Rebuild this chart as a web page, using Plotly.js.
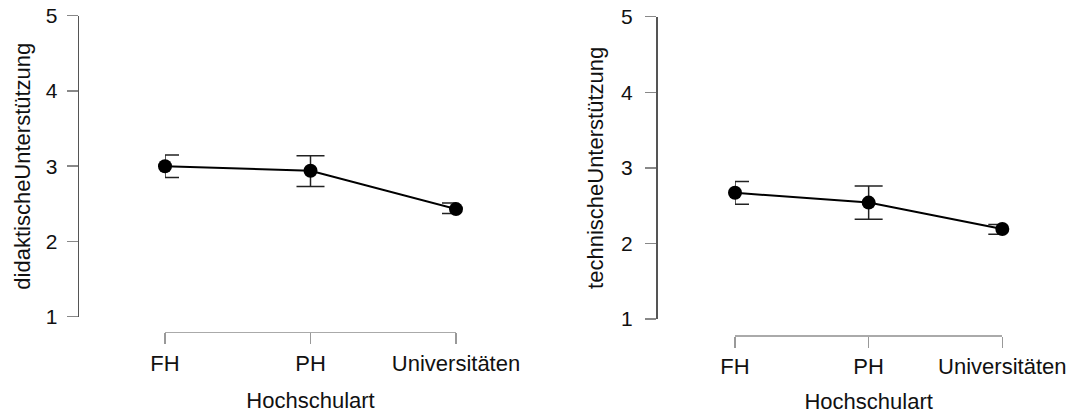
<!DOCTYPE html>
<html>
<head>
<meta charset="utf-8">
<script src="https://cdn.plot.ly/plotly-3.0.1.min.js"></script>
<style>
html,body{margin:0;padding:0;background:#fff;}
#chart{width:1072px;height:414px;}
</style>
</head>
<body>
<div id="chart"></div>
<script>
// Data
const categories = ['FH', 'PH', 'Universitäten'];
const didaktischMean  = [3.00, 2.94, 2.43];
const didaktischUpper = [3.15, 3.14, 2.51];
const didaktischLower = [2.85, 2.73, 2.37];
const technischMean  = [2.67, 2.54, 2.19];
const technischUpper = [2.82, 2.76, 2.25];
const technischLower = [2.52, 2.32, 2.12];
const yTickVals = [1, 2, 3, 4, 5];
const xTitle = 'Hochschulart';
const yTitleLeft = 'didaktischeUnterstützung';
const yTitleRight = 'technischeUnterstützung';

const FONT = 'Liberation Sans, Arial, Helvetica, sans-serif';
const W = 1072, H = 414;
const px = v => v / W;
const py = v => 1 - v / H;

function diff(a, b) { return a.map((v, i) => +(v - b[i]).toFixed(4)); }

function makeTrace(mean, upper, lower, xa, ya) {
  return {
    type: 'scatter', mode: 'lines+markers',
    x: categories, y: mean, xaxis: xa, yaxis: ya,
    cliponaxis: false,
    line: {color: '#000', width: 2},
    marker: {color: '#000', size: 14},
    error_y: {
      type: 'data', symmetric: false,
      array: diff(upper, mean), arrayminus: diff(mean, lower),
      color: '#222', thickness: 1.5, width: 14
    },
    showlegend: false, hoverinfo: 'skip'
  };
}

const traces = [
  makeTrace(didaktischMean, didaktischUpper, didaktischLower, 'x', 'y'),
  makeTrace(technischMean, technischUpper, technischLower, 'x2', 'y2')
];

function xAxis(d0, d1, pos) {
  return {
    type: 'category', categoryorder: 'array', categoryarray: categories,
    domain: [px(d0), px(d1)], range: [0, 2], anchor: 'free', position: pos,
    showline: true, linecolor: '#aaa', linewidth: 1.5,
    ticks: 'outside', ticklen: 11, tickcolor: '#999', tickwidth: 1.5,
    showgrid: false, zeroline: false, fixedrange: true,
    tickfont: {family: FONT, size: 22, color: '#111'},
    ticklabelstandoff: 0,
    title: {text: xTitle, font: {family: FONT, size: 22, color: '#111'}, standoff: 18}
  };
}
function yAxis(t1, t5, pos, title, labelGap, titleGap) {
  return {
    domain: [py(t1), py(t5)], range: [1, 5], anchor: 'free', position: pos,
    tickvals: yTickVals,
    showline: true, linecolor: '#555', linewidth: 1.5,
    ticks: 'outside', ticklen: 11, tickcolor: '#888', tickwidth: 1.5,
    showgrid: false, zeroline: false, fixedrange: true,
    tickfont: {family: FONT, size: 21, color: '#111'},
    ticklabelstandoff: labelGap,
    title: {text: title, font: {family: FONT, size: 22, color: '#111'}, standoff: titleGap}
  };
}

const layout = {
  width: W, height: H,
  margin: {l: 0, r: 0, t: 0, b: 0},
  paper_bgcolor: '#fff', plot_bgcolor: '#fff',
  showlegend: false,
  xaxis: xAxis(165, 456, py(331.7)),
  yaxis: yAxis(316.7, 15.7, px(77.7), yTitleLeft, 5, 7),
  xaxis2: xAxis(735, 1002.3, py(335)),
  yaxis2: yAxis(319, 16.7, px(656), yTitleRight, 8, 10)
};

Plotly.newPlot('chart', traces, layout, {displayModeBar: false, staticPlot: true});
</script>
</body>
</html>
